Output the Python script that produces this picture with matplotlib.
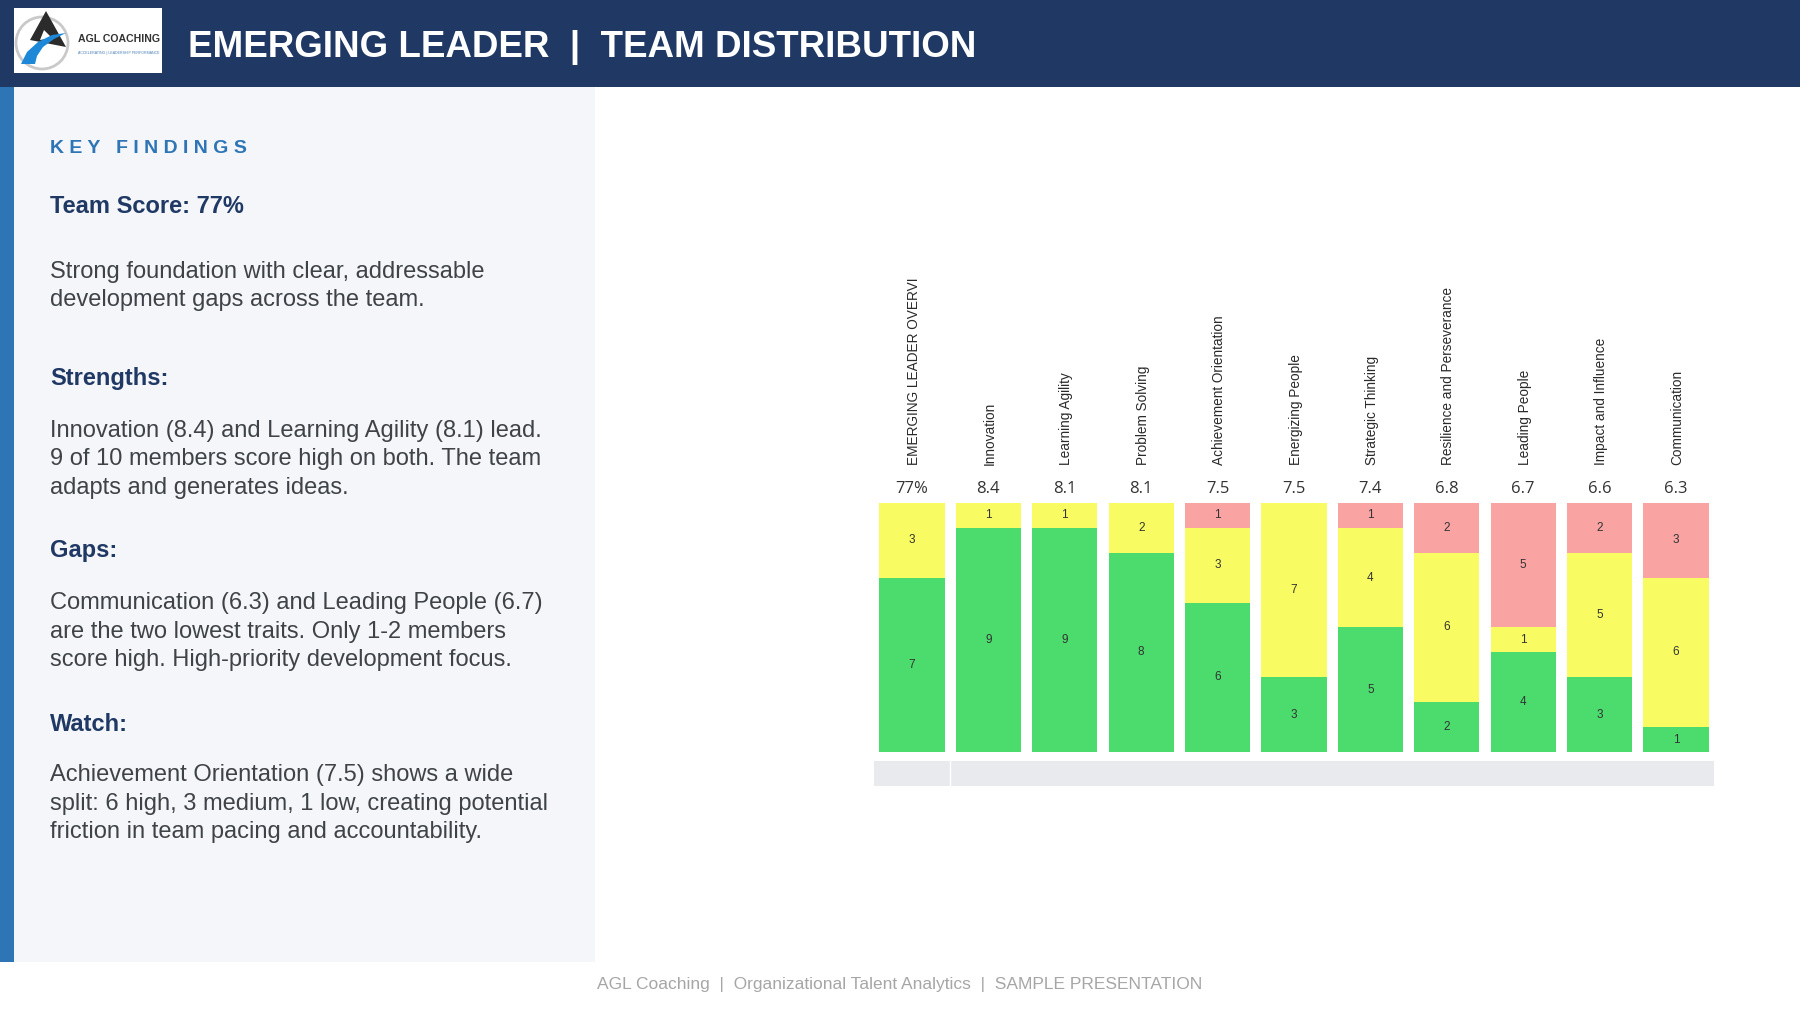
import matplotlib
matplotlib.use("Agg")
import matplotlib.pyplot as plt
import numpy as np
from matplotlib.patches import Rectangle, Circle, Polygon

plt.rcParams["font.family"] = ["Liberation Sans", "DejaVu Sans"]

# --- dados do gráfico (contagens por nível, 10 membros por competência) ---
categories = [
    "EMERGING LEADER OVERVI", "Innovation", "Learning Agility", "Problem Solving",
    "Achievement Orientation", "Energizing People", "Strategic Thinking",
    "Resilience and Perseverance", "Leading People", "Impact and Influence", "Communication",
]
score_labels = ["77%", "8.4", "8.1", "8.1", "7.5", "7.5", "7.4", "6.8", "6.7", "6.6", "6.3"]
high = [7, 9, 9, 8, 6, 3, 5, 2, 4, 3, 1]
medium = [3, 1, 1, 2, 3, 7, 4, 6, 1, 5, 6]
low = [0, 0, 0, 0, 1, 0, 1, 2, 5, 2, 3]

# --- texto do painel lateral ---
team_score = "Team Score: 77%"
intro_lines = ["Strong foundation with clear, addressable",
               "development gaps across the team."]
strength_lines = ["Innovation (8.4) and Learning Agility (8.1) lead.",
                  "9 of 10 members score high on both. The team",
                  "adapts and generates ideas."]
gap_lines = ["Communication (6.3) and Leading People (6.7)",
             "are the two lowest traits. Only 1-2 members",
             "score high. High-priority development focus."]
watch_lines = ["Achievement Orientation (7.5) shows a wide",
               "split: 6 high, 3 medium, 1 low, creating potential",
               "friction in team pacing and accountability."]
footer = "AGL Coaching  |  Organizational Talent Analytics  |  SAMPLE PRESENTATION"

NAVY = "#1f3864"
BLUE = "#2e75b6"
PANEL = "#f4f6f9"
BODY = "#3f4347"
GREEN = "#4cdc6e"
YELLOW = "#f8fc62"
RED = "#f9a3a3"
STRIP = "#e8eaee"

W, H = 1800, 1013
fig = plt.figure(figsize=(W / 100, H / 100), dpi=100)
fig.patch.set_facecolor("white")

# camada de fundo em coordenadas de píxel (y para baixo)
bg = fig.add_axes([0, 0, 1, 1])
bg.set_xlim(0, W)
bg.set_ylim(H, 0)
bg.axis("off")

bg.add_patch(Rectangle((0, 0), W, 87, color=NAVY, lw=0))
bg.add_patch(Rectangle((0, 87), 595, 875, color=PANEL, lw=0))
bg.add_patch(Rectangle((0, 87), 14, 875, color=BLUE, lw=0))

# logótipo (aproximado)
bg.add_patch(Rectangle((14, 8), 148, 65, color="white", lw=0))
bg.add_patch(Circle((42, 43), 26, fill=False, ec="#c9c9c9", lw=2))
bg.add_patch(Polygon([(46, 11), (30, 40), (66, 47)], closed=True, color="#2b2b2b", lw=0))
bg.add_patch(Polygon([(44, 30), (40, 40), (52, 38)], closed=True, color="white", lw=0))
bg.add_patch(Polygon([(21, 64), (27, 52), (38, 42), (52, 35), (66, 33),
                      (54, 39), (43, 47), (37, 56), (35, 64)], closed=True, color="#1e88d8", lw=0))
bg.text(78, 42, "AGL COACHING", fontsize=7.6, weight="bold", color="#333333", va="baseline")
bg.text(78, 54, "ACCELERATING | LEADERSHIP PERFORMANCE", fontsize=2.6, color="#4a7fb5",
        va="baseline")

bg.text(188, 57, "EMERGING LEADER  |  TEAM DISTRIBUTION", fontsize=26.5, weight="bold",
        color="white", va="baseline")

# painel "key findings"
x_txt = 50
bg.text(x_txt, 153, "K E Y   F I N D I N G S", fontsize=14, weight="bold", color=BLUE, va="baseline")
bg.text(x_txt, 212.5, team_score, fontsize=17, weight="bold", color=NAVY, va="baseline")


def paragraph(lines, y0, step=28.5):
    for k, line in enumerate(lines):
        bg.text(x_txt, y0 + k * step, line, fontsize=17, color=BODY, va="baseline")


paragraph(intro_lines, 277.5)
bg.text(x_txt, 385, "Strengths:", fontsize=17, weight="bold", color=NAVY, va="baseline")
paragraph(strength_lines, 436.5)
bg.text(x_txt, 557, "Gaps:", fontsize=17, weight="bold", color=NAVY, va="baseline")
paragraph(gap_lines, 609)
bg.text(x_txt, 731, "Watch:", fontsize=17, weight="bold", color=NAVY, va="baseline")
paragraph(watch_lines, 781)

bg.text(900, 989, footer, fontsize=12.5, color="#a6a6a6", ha="center", va="baseline")

# --- gráfico de barras empilhadas ---
x0, x1, y_top, y_bot = 873.8, 1714.2, 503, 785.6
ax = fig.add_axes([x0 / W, (H - y_bot) / H, (x1 - x0) / W, (y_bot - y_top) / H])
ax.set_xlim(-0.5, 10.5)
ax.set_ylim(-1.35, 10)
ax.axis("off")

x = np.arange(len(categories))
high_a, med_a, low_a = np.array(high), np.array(medium), np.array(low)
ax.bar(x, high_a, width=0.856, color=GREEN, lw=0)
ax.bar(x, med_a, bottom=high_a, width=0.856, color=YELLOW, lw=0)
ax.bar(x, low_a, bottom=high_a + med_a, width=0.856, color=RED, lw=0)

for i in x:
    base = 0
    for val in (high_a[i], med_a[i], low_a[i]):
        if val > 0:
            ax.text(i, base + val / 2, str(val), ha="center", va="center",
                    fontsize=8.5, color="#333333")
        base += val
    ax.text(i, 10.57, score_labels[i], ha="center", va="center", fontsize=12,
            color="#333333", family=["Open Sans", "DejaVu Sans"], clip_on=False)
    ax.text(i + 0.02, 11.53, categories[i], rotation=90, ha="center", va="bottom",
            fontsize=9.8, color="#2a2a2a", clip_on=False)

# faixa de tabela vazia por baixo das barras
ax.add_patch(Rectangle((-0.5, -1.35), 11, 1.0, color=STRIP, lw=0, clip_on=False))
ax.plot([0.5, 0.5], [-1.35, -0.35], color="white", lw=1)

fig.savefig("out.png", dpi=100, facecolor="white")
